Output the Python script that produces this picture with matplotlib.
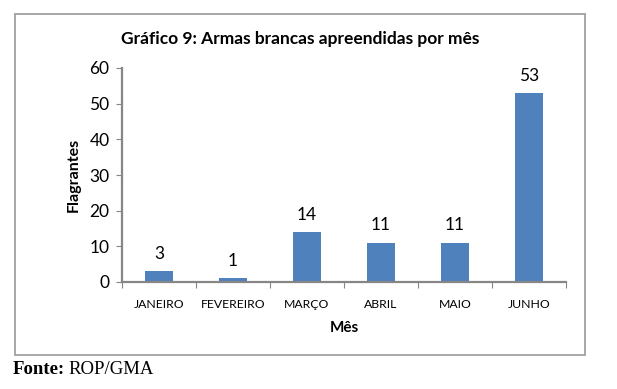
import matplotlib.pyplot as plt
from matplotlib.patches import Rectangle

meses = ['JANEIRO', 'FEVEREIRO', 'MARÇO', 'ABRIL', 'MAIO', 'JUNHO']
flagrantes = [3, 1, 14, 11, 11, 53]
yticks = [0, 10, 20, 30, 40, 50, 60]

W, H = 617, 389
plt.rcParams['font.family'] = ['Lato', 'DejaVu Sans']
fig = plt.figure(figsize=(W / 100, H / 100), dpi=100)

# chart border (pixels -> figure coords)
fig.patches.append(Rectangle((15 / W, 1 - 355 / H), (585 - 15) / W, (355 - 14) / H,
                             transform=fig.transFigure, fill=False,
                             edgecolor='#a0a0a0', lw=1.3))

ax = fig.add_axes([122 / W, 1 - 282 / H, (566 - 122) / W, (282 - 68) / H])
x = range(len(meses))
ax.bar(x, flagrantes, width=0.39, color='#4f81bd')
for xi, v in zip(x, flagrantes):
    ax.annotate(str(v), (xi, v), xytext=(0, 12.5), textcoords='offset points',
                ha='center', va='center', fontsize=12.5)

ax.set_xlim(-0.5, len(meses) - 0.5)
ax.set_ylim(0, 60)
ax.set_yticks(yticks)
ax.tick_params(axis='y', labelsize=12.5, length=4, color='#868686', pad=5)
ax.set_xticks([i - 0.5 for i in range(len(meses) + 1)])
ax.set_xticklabels([])
ax.set_xticks(list(x), minor=True)
ax.set_xticklabels(meses, minor=True, fontsize=8.8)
ax.tick_params(axis='x', which='major', length=4, color='#868686')
ax.tick_params(axis='x', which='minor', length=0, pad=12)
for s in ['top', 'right']:
    ax.spines[s].set_visible(False)
for s in ['left', 'bottom']:
    ax.spines[s].set_color('#868686')
    ax.spines[s].set_linewidth(1.6)

ax.set_ylabel('Flagrantes', fontsize=11.5, fontweight='bold', labelpad=6)
ax.set_xlabel('Mês', fontsize=11, fontweight='bold', labelpad=8)
fig.text(300 / W, 1 - 39 / H, 'Gráfico 9: Armas brancas apreendidas por mês',
         ha='center', va='center', fontsize=12.5, fontweight='bold')

fig.text(13 / W, 1 - 369 / H, 'Fonte:', fontsize=13.5, va='center',
         family='Liberation Serif', fontweight='bold')
fig.text(68 / W, 1 - 369 / H, 'ROP/GMA', fontsize=13.5, va='center',
         family='Liberation Serif')

fig.savefig('out.png', dpi=100)
